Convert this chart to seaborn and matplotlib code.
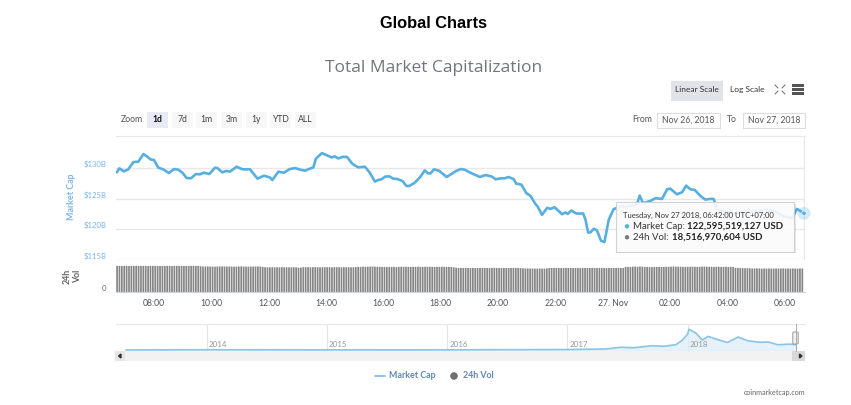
import numpy as np
import pandas as pd
import matplotlib
matplotlib.use("Agg")
import matplotlib.pyplot as plt
from matplotlib.patches import Rectangle, FancyBboxPatch, Circle
import seaborn as sns

cap_hours = [6.69,6.78,6.94,7.09,7.27,7.44,7.62,7.76,7.87,7.99,8.14,8.31,8.51,8.69,8.84,8.98,9.13,9.28,9.45,9.59,9.73,9.92,
 10.12,10.20,10.37,10.50,10.64,10.87,11.08,11.34,11.60,11.83,12.03,12.12,12.33,12.52,12.73,12.91,13.10,13.26,13.43,13.55,13.64,13.85,
 14.01,14.19,14.30,14.42,14.59,14.73,14.92,15.12,15.35,15.52,15.70,15.81,15.93,16.05,16.20,16.34,16.48,16.66,16.80,16.90,17.09,17.27,
 17.44,17.56,17.64,17.76,17.94,18.20,18.37,18.51,18.69,18.83,19.03,19.36,19.56,19.79,19.91,20.08,20.22,20.37,20.55,20.63,20.81,20.99,
 21.13,21.30,21.38,21.53,21.71,21.83,21.97,22.23,22.35,22.43,22.55,22.73,22.97,23.05,23.14,23.22,23.34,23.45,23.59,23.71,23.86,24.03,
 24.27,24.67,24.85,24.94,25.06,25.31,25.49,25.72,25.90,26.01,26.24,26.42,26.56,26.71,26.86,27.06,27.23,27.41,27.52,27.64,28.22,29.33,
 29.67,29.97,30.26,30.43,30.69]
cap_values = [129.35,130.0,129.51,129.84,131.03,131.09,132.34,131.90,131.47,131.36,130.11,129.84,129.24,129.89,129.78,129.29,128.42,128.37,129.08,129.02,129.29,129.08,
 130.11,130.05,129.35,129.57,129.46,130.27,129.84,129.84,128.32,128.80,128.53,128.10,129.46,129.29,129.89,130.05,129.78,129.62,129.95,130.16,131.58,132.50,
 132.17,131.79,131.96,131.63,131.90,131.85,130.71,130.16,130.27,129.29,127.83,128.10,128.21,128.64,128.70,128.32,128.26,127.93,127.12,127.12,127.66,128.53,
 129.67,129.18,129.18,129.84,129.62,128.59,129.08,129.51,129.89,129.78,129.29,128.59,128.91,128.64,128.21,128.37,128.37,128.59,128.21,127.50,127.34,125.92,
 125.49,124.18,123.75,122.39,123.53,123.37,123.64,122.50,122.77,122.55,123.10,122.61,122.61,121.58,119.51,119.51,120.11,119.84,118.15,117.93,121.58,123.32,
 123.75,123.86,124.18,125.54,124.29,124.67,125.11,125.0,126.58,126.68,125.76,126.09,127.17,126.58,126.47,125.49,124.89,125.0,125.0,123.21,122.66,123.21,
 122.93,122.12,121.85,123.37,122.60]

vol_values = [
 20.6,20.6,20.5,20.6,20.6,20.5,20.6,20.6,20.6,20.5,20.6,20.6,
 20.6,20.5,20.6,20.6,20.6,20.6,20.5,20.6,20.6,20.6,20.6,20.5,
 20.6,20.6,20.6,20.5,20.6,20.6,20.6,20.6,20.6,20.5,20.6,20.3,
 20.1,20.1,20.2,20.1,20.1,20.0,20.1,20.1,20.2,20.1,20.1,20.1,
 20.1,20.0,20.1,20.1,20.2,20.1,20.1,20.0,20.1,20.1,20.1,20.2,
 20.1,19.9,19.6,19.5,19.5,19.6,19.5,19.5,19.5,19.6,19.5,19.5,
 19.5,19.5,19.6,19.5,19.2,19.3,19.6,19.6,19.6,19.5,19.6,19.6,
 19.6,19.5,19.6,19.6,19.6,19.6,19.5,19.6,19.6,19.6,19.5,19.6,
 19.6,19.6,19.5,19.6,19.6,19.9,19.8,20.0,19.9,20.0,20.0,20.1,
 20.0,19.9,19.9,19.8,19.8,19.7,19.8,19.8,19.8,19.7,19.8,19.9,
 19.9,19.9,19.9,19.8,19.9,19.9,19.9,19.9,19.8,19.9,19.9,19.9,
 19.9,19.8,19.9,19.9,19.9,19.9,19.8,19.9,19.8,19.5,19.2,19.0,
 19.0,19.0,19.1,19.0,19.0,19.0,18.9,19.0,19.0,19.1,19.0,19.0,
 19.0,19.0,19.1,19.0,19.0,18.9,19.0,19.0,19.0,19.0,19.1,19.0,
 19.0,18.9,18.7,18.6,18.6,18.5,18.6,18.5,18.5,18.6,18.5,18.5,
 18.7,18.9,19.0,19.0,19.0,19.0,18.9,19.0,19.0,19.0,19.1,19.0,
 19.0,19.0,18.9,19.0,19.0,19.0,19.0,19.1,19.0,19.0,19.0,19.0,
 19.0,18.9,19.0,19.0,19.0,19.0,19.1,19.0,19.0,19.8,19.8,19.7,
 20.0,20.1,19.9,20.1,20.0,19.8,19.8,19.7,19.7,19.8,19.8,19.9,
 19.8,19.8,19.9,19.9,20.0,20.1,20.0,20.0,20.0,19.9,19.8,19.9,
 19.9,20.0,19.9,19.8,19.9,20.0,20.1,20.0,19.9,19.9,19.8,19.9,
 19.9,19.8,19.9,19.9,19.8,19.9,19.8,19.1,19.0,18.9,18.8,18.8,
 18.8,18.7,18.6,18.6,18.7,18.6,18.5,18.6,18.6,18.6,18.5,18.5,
 18.6,18.5,18.6,18.6,18.5,18.6,18.5,18.6,18.5,18.5,18.6,18.5]
vol_start_hour = 6.7
bars_per_hour = 12

overview_years = [2013.33,2014.0,2014.3,2015.0,2016.0,2017.0,2017.31,2017.45,2017.55,2017.7,2017.8,2017.9,2017.95,2018.0,2018.01,2018.07,2018.12,2018.17,2018.22,2018.33,2018.42,2018.5,2018.6,2018.67,2018.75,2018.85,2018.9]
overview_cap = [1.6,10,8,5,6,18,40,110,90,170,150,210,370,640,830,670,400,545,460,300,520,370,310,320,210,235,210]

price_ticks = [115,120,125,130]
price_labels = ["$115B","$120B","$125B","$130B"]
hour_ticks = [8,10,12,14,16,18,20,22,24,26,28,30]
hour_labels = ["08:00","10:00","12:00","14:00","16:00","18:00","20:00","22:00","27. Nov","02:00","04:00","06:00"]
year_ticks = [2014,2015,2016,2017,2018]
zoom_buttons = ["1d","7d","1m","3m","1y","YTD","ALL"]

W, H = 851, 405
sns.set_style("white")
FONT = "Lato"
plt.rcParams["font.family"] = [FONT, "DejaVu Sans"]
LINE = "#57afdf"
GRID = "#e8e8e8"
fig = plt.figure(figsize=(W/100, H/100), dpi=100, facecolor="white")

def px_axes(l, t, r, b, **kw):
    return fig.add_axes([l/W, 1-b/H, (r-l)/W, (b-t)/H], **kw)

# main price panel
ax = px_axes(116, 136, 805, 260)
sns.lineplot(x=cap_hours, y=cap_values, color=LINE, lw=1.9, ax=ax, errorbar=None, sort=False, estimator=None)
ax.set_xlim(6.663, 30.71)
ax.set_ylim(115, 135.3)
ax.set_yticks(price_ticks)
ax.set_yticklabels(price_labels, color="#7cb5ec", fontsize=5.6, va="bottom")
ax.tick_params(axis="y", length=0, pad=7)
ax.set_xticks([])
ax.grid(True, axis="y", color=GRID, lw=1)
ax.set_axisbelow(True)
for s in ax.spines.values():
    s.set_visible(False)
ax.spines["top"].set_visible(True); ax.spines["top"].set_color(GRID)
ax.axvline(30.66, color=GRID, lw=1, zorder=0)
ax.patch.set_alpha(0)

# volume panel
vx = px_axes(116, 265, 805, 292.3)
vol_hours = vol_start_hour + np.arange(len(vol_values)) / bars_per_hour
vol_df = pd.DataFrame({"hour": vol_hours, "vol": vol_values})
sns.barplot(data=vol_df, x="hour", y="vol", native_scale=True, color="#858585", saturation=1, width=0.72, linewidth=0, ax=vx, errorbar=None)
for p in vx.patches:
    p.set_snap(False)
vx.set_xlim(6.663, 30.71)
vx.set_ylim(0, 21.3)
vx.set_yticks([0]); vx.set_yticklabels(["0"], color="#666666", fontsize=5.6, va="bottom")
vx.tick_params(axis="y", length=0, pad=7)
vx.set_xticks(hour_ticks); vx.set_xticklabels(hour_labels, color="#555555", fontsize=6.2)
vx.tick_params(axis="x", length=3, width=0.8, color="#ccd6eb", pad=1.5)
vx.set_xlabel(""); vx.set_ylabel("")
for s in vx.spines.values():
    s.set_visible(False)
vx.spines["bottom"].set_visible(True); vx.spines["bottom"].set_color("#ccd6eb")
vx.patch.set_alpha(0)

# navigator
nx = px_axes(116, 324, 805, 351)
sns.lineplot(x=overview_years, y=overview_cap, color="#8cc4e6", lw=1.2, ax=nx, errorbar=None, sort=False, estimator=None)
nx.fill_between(overview_years, overview_cap, color="#dcedf9", alpha=0.7)
nx.set_xlim(2014 + (116-206.5)/120.3, 2014 + (805-206.5)/120.3)
nx.set_ylim(-40, 1040)
nx.set_yticks([])
nx.set_xticks(year_ticks); nx.set_xticklabels([])
nx.tick_params(axis="x", length=0)
nx.grid(True, axis="x", color="#e6e6e6", lw=0.8)
nx.set_axisbelow(True)
for y_ in year_ticks:
    nx.annotate(str(y_), (y_, 0), xytext=(1.5, 1.5), textcoords="offset points", fontsize=5.8, color="#999999", va="bottom", ha="left")
for s in nx.spines.values():
    s.set_visible(False)
nx.spines["top"].set_visible(True); nx.spines["top"].set_color(GRID)
nx.patch.set_alpha(0)

# page furniture in pixel coordinates
ov = fig.add_axes([0, 0, 1, 1], zorder=10)
ov.set_xlim(0, W); ov.set_ylim(H, 0); ov.axis("off"); ov.patch.set_alpha(0)

def T(x, y, s, size=6.2, color="#555555", ha="left", va="center", weight="normal", **kw):
    return ov.text(x, y, s, fontsize=size, color=color, ha=ha, va=va, fontweight=weight, **kw)

T(433, 23.5, "Global Charts", size=11.8, color="black", ha="center", weight="bold", family="Liberation Sans")
T(433.5, 68.5, "Total Market Capitalization", size=12.55, color="#72767c", ha="center", family="Open Sans")
T(121, 119.5, "Zoom", size=6.2)

bx = [147, 172, 196, 221, 246, 270, 295]
for i, (x0, lab) in enumerate(zip(bx, zoom_buttons)):
    ov.add_patch(Rectangle((x0, 112), 21, 15.5, fc="#e6ebf5" if i == 0 else "#f7f7f7", ec="none"))
    T(x0+10.5, 119.5, lab, size=6.2, ha="center", color="#111111" if i == 0 else "#444444", weight="bold" if i == 0 else "normal")

T(632, 119.5, "From", size=6.2)
T(727, 119.5, "To", size=6.2)
for x0, x1, lab in [(656.7, 719.7, "Nov 26, 2018"), (742.7, 805, "Nov 27, 2018")]:
    ov.add_patch(Rectangle((x0, 113), x1-x0, 14.5, fc="white", ec="#dddddd", lw=0.8))
    T((x0+x1)/2, 119.8, lab, size=6.2, ha="center")

ov.add_patch(Rectangle((670.7, 81), 52.6, 20, fc="#e0e4e9", ec="none"))
T(697, 89.5, "Linear Scale", size=6.0, ha="center", color="#333333")
T(747.5, 89.5, "Log Scale", size=6.0, ha="center", color="#333333")
for (a, b, c, d) in [(775,85,778,88),(785,85,782,88),(775,94,778,91),(785,94,782,91)]:
    ov.plot([a, c], [b, d], color="#777777", lw=0.8)
for y_ in (85.5, 89.5, 93.5):
    ov.add_patch(Rectangle((792, y_-1.1), 12, 2.2, fc="#555555", ec="none"))

T(71, 197, "Market Cap", size=6.4, color="#7cb5ec", ha="center", weight="bold", rotation=90)
T(72.5, 276, "24h\nVol", size=6.4, color="#666666", ha="center", weight="bold", rotation=90, linespacing=1.25, multialignment="center")

# tooltip and hover marker
ov.add_patch(Circle((804, 213.3), 6.5, fc=LINE, alpha=0.25, ec="none", clip_on=False))
ov.add_patch(Circle((804, 213.3), 2.2, fc=LINE, ec="white", lw=0.4, clip_on=False))
ov.add_patch(Rectangle((617, 204), 179, 49, fc="#000000", alpha=0.10, ec="none"))
ov.add_patch(Rectangle((615.7, 202.3), 178.6, 49.4, fc="white", alpha=0.88, ec="#cccccc", lw=0.8))
T(623, 215.5, "Tuesday, Nov 27 2018, 06:42:00 UTC+07:00", size=5.5, color="#333333")
ov.add_patch(Circle((627, 226.3), 2.2, fc=LINE, ec="none"))
ov.add_patch(Circle((627, 237.3), 2.2, fc="#7a7a7a", ec="none"))
T(633, 226.3, "Market Cap:", size=6.9, color="#333333")
T(687, 226.3, "122,595,519,127 USD", size=6.9, color="#222222", weight="bold")
T(633, 237.3, "24h Vol:", size=6.9, color="#333333")
T(672, 237.3, "18,516,970,604 USD", size=6.9, color="#222222", weight="bold")

# scrollbar and navigator handle
ov.add_patch(Rectangle((115, 351), 690, 10, fc="#f2f2f2", ec="none"))
ov.add_patch(Rectangle((115, 351), 10, 10, fc="#e6e6e6", ec="none"))
ov.add_patch(Rectangle((792, 351), 13, 10, fc="#d8d8d8", ec="none"))
ov.fill([802, 799.5, 799.5], [356, 354, 358], color="#333333")
ov.fill([118.5, 121, 121], [356, 354, 358], color="#333333")
ov.plot([795.5, 795.5], [324, 351], color="#aaaaaa", lw=0.7)
ov.add_patch(FancyBboxPatch((792.8, 332), 5.4, 12, boxstyle="round,pad=0,rounding_size=1", fc="#f2f2f2", ec="#999999", lw=0.7))

# legend and credit
ov.plot([374.6, 384.7], [376, 376], color="#7cb5ec", lw=1.2)
T(389, 376, "Market Cap", size=6.4, color="#5f87b5", weight="bold")
ov.add_patch(Circle((454, 376), 3.8, fc="#707070", ec="none"))
T(463, 376, "24h Vol", size=6.4, color="#5f87b5", weight="bold")
T(805, 393, "coinmarketcap.com", size=5.2, color="#666666", ha="right")

fig.savefig("out.png", dpi=100)
